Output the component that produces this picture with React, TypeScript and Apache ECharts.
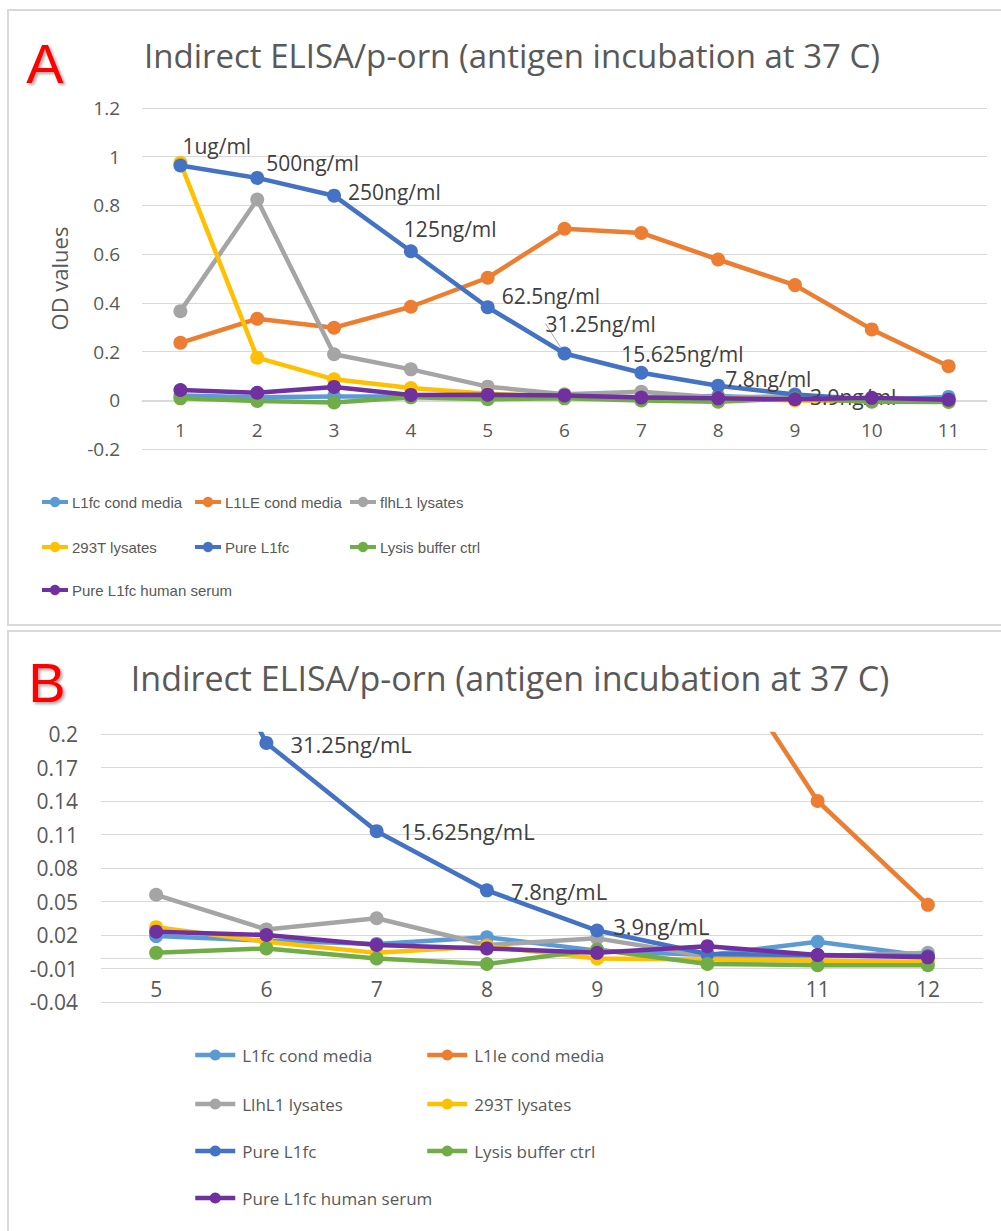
import React, { useEffect, useRef } from 'react';
import * as echarts from 'echarts';

const TITLE = 'Indirect ELISA/p-orn (antigen incubation at 37 C)';

const categoriesA = ['1', '2', '3', '4', '5', '6', '7', '8', '9', '10', '11'];
const categoriesB = ['5', '6', '7', '8', '9', '10', '11', '12'];

const namesA = ['L1fc cond media', 'L1LE cond media', 'flhL1 lysates', '293T lysates', 'Pure L1fc', 'Lysis buffer ctrl', 'Pure L1fc human serum'];
const namesB = ['L1fc cond media', 'L1le cond media', 'LlhL1 lysates', '293T lysates', 'Pure L1fc', 'Lysis buffer ctrl', 'Pure L1fc human serum'];

// OD values for dilution steps 1..12
const l1fcCondMedia = [0.02, 0.012, 0.016, 0.016, 0.019, 0.015, 0.012, 0.018, 0.006, 0.002, 0.014, 0.001];
const l1leCondMedia = [0.236, 0.335, 0.298, 0.384, 0.503, 0.704, 0.687, 0.578, 0.473, 0.291, 0.14, 0.047];
const flhL1Lysates = [0.366, 0.824, 0.189, 0.127, 0.056, 0.025, 0.035, 0.011, 0.017, 0.001, 0.001, 0.004];
const t293Lysates = [0.975, 0.175, 0.086, 0.05, 0.027, 0.014, 0.004, 0.01, -0.001, -0.002, -0.003, -0.004];
const pureL1fc = [0.964, 0.913, 0.84, 0.612, 0.382, 0.192, 0.113, 0.06, 0.024, 0.003, 0.002, 0.001];
const lysisBufferCtrl = [0.008, -0.003, -0.009, 0.012, 0.004, 0.008, -0.001, -0.006, 0.007, -0.006, -0.007, -0.007];
const pureL1fcHumanSerum = [0.042, 0.031, 0.055, 0.022, 0.023, 0.02, 0.011, 0.008, 0.004, 0.01, 0.002, 0.0];

const concLabelsA = ['1ug/ml', '500ng/ml', '250ng/ml', '125ng/ml', '62.5ng/ml', '31.25ng/ml', '15.625ng/ml', '7.8ng/ml', '3.9ng/ml'];
const concLabelsB = ['', '31.25ng/mL', '15.625ng/mL', '7.8ng/mL', '3.9ng/mL'];

const yAxisA = { min: -0.2, max: 1.2, interval: 0.2 };
const yAxisB = { min: -0.04, max: 0.2, interval: 0.03 };

// styling (kept apart from data)
const COLORS = ['#5B9BD5', '#ED7D31', '#A5A5A5', '#FFC000', '#4472C4', '#70AD47', '#7030A0'];
const labelOffsetsA: [number, number][] = [[-5, -19], [2, -15], [7, -4], [-14, -22], [7, -11], [-26, -30], [-27, -19], [0, -7], [8, 3]];
const labelOffsetsB: [number, number][] = [[0, 0], [17, 1], [17, 0], [17, 1], [9, -5]];
const legendPosA: [number, number][] = [[40, 502], [193, 502], [348, 502], [40, 547], [193, 547], [348, 547], [40, 590]];
const legendPosB: [number, number][] = [[193, 1055], [425, 1055], [193, 1104], [425, 1104], [193, 1151], [425, 1151], [193, 1198]];

const FONT = '"Open Sans", "Noto Sans", sans-serif';
const GRAY_TEXT = '#595959';
const GRID_COLOR = '#D9D9D9';

export default function App() {
  const ref = useRef<HTMLDivElement>(null);
  useEffect(() => {
    if (!ref.current) return;
    const chart = echarts.init(ref.current, null, { renderer: 'svg' });
    const allData = [l1fcCondMedia, l1leCondMedia, flhL1Lysates, t293Lysates, pureL1fc, lysisBufferCtrl, pureL1fcHumanSerum];

    const seriesA = allData.map((d, i) => {
      const vals = d.slice(0, categoriesA.length);
      const data = i === 4
        ? vals.map((v, j) => (j < concLabelsA.length ? {
          value: v,
          label: { show: true, formatter: concLabelsA[j], position: 'right', distance: 0 },
          labelLine: { show: j === 5, lineStyle: { color: '#A6A6A6', width: 1 } },
        } : v))
        : vals;
      return {
        type: 'line', name: namesA[i], xAxisIndex: 0, yAxisIndex: 0, data,
        symbol: 'circle', symbolSize: 14, showSymbol: true,
        lineStyle: { width: 4.5, color: COLORS[i] }, itemStyle: { color: COLORS[i] },
        label: { fontSize: 21, color: '#404040', fontFamily: FONT },
        labelLine: { show: false },
        labelLayout: i === 4 ? (p: any) => {
          const o = labelOffsetsA[p.dataIndex];
          return o ? { dx: o[0], dy: o[1] } : {};
        } : undefined,
        z: 2 + i,
      };
    });

    const seriesB = allData.map((d, i) => {
      const vals = d.slice(4, 4 + categoriesB.length);
      const data = i === 4
        ? vals.map((v, j) => (j >= 1 && j < concLabelsB.length ? {
          value: v,
          label: { show: true, formatter: concLabelsB[j], position: 'right', distance: 0, offset: labelOffsetsB[j] },
        } : v))
        : vals;
      return {
        type: 'line', name: namesB[i], xAxisIndex: 1, yAxisIndex: 1, data,
        symbol: 'circle', symbolSize: 14, showSymbol: true,
        lineStyle: { width: 4.5, color: COLORS[i] }, itemStyle: { color: COLORS[i] },
        label: { fontSize: 22, color: '#404040', fontFamily: FONT },
        z: 2 + i,
      };
    });

    const legends: any[] = [];
    namesA.forEach((n, i) => legends.push({
      data: [n], left: legendPosA[i][0], top: legendPosA[i][1] - 9, padding: 0,
      itemWidth: 26, itemHeight: 13, itemGap: 0, selectedMode: false,
      lineStyle: { width: 4 },
      textStyle: { fontSize: 15, lineHeight: 18, color: GRAY_TEXT, fontFamily: '"Liberation Sans Narrow", "Liberation Sans", Arial, sans-serif', padding: [0, 0, 0, -1] },
    }));
    namesB.forEach((n, i) => legends.push({
      data: [n], left: legendPosB[i][0], top: legendPosB[i][1] - 11, padding: 0,
      itemWidth: 40, itemHeight: 14, itemGap: 0, selectedMode: false,
      lineStyle: { width: 4.5 },
      textStyle: { fontSize: 17, lineHeight: 22, color: GRAY_TEXT, fontFamily: FONT, padding: [0, 0, 0, 2] },
    }));

    const bShift = -yAxisB.min;
    chart.setOption({
      animation: false,
      backgroundColor: '#FFFFFF',
      grid: [
        { left: 142, top: 108, width: 845, height: 341 },
        { left: 101, top: 734, width: 882, height: 268 },
      ],
      xAxis: [
        {
          type: 'category', gridIndex: 0, data: categoriesA, boundaryGap: true,
          position: 'bottom', offset: -48,
          axisLine: { onZero: false, lineStyle: { color: GRID_COLOR, width: 1 } },
          axisTick: { show: false },
          axisLabel: { fontSize: 19, color: GRAY_TEXT, fontFamily: FONT, margin: 19 },
          splitLine: { show: false },
        },
        {
          type: 'category', gridIndex: 1, data: categoriesB, boundaryGap: true,
          position: 'bottom', offset: -44,
          axisLine: { onZero: false, lineStyle: { color: GRID_COLOR, width: 1 } },
          axisTick: { show: false },
          axisLabel: { fontSize: 21, color: GRAY_TEXT, fontFamily: FONT, margin: 20 },
          splitLine: { show: false },
        },
      ],
      yAxis: [
        {
          type: 'value', gridIndex: 0, position: 'left', min: yAxisA.min, max: yAxisA.max, interval: yAxisA.interval,
          name: 'OD values', nameLocation: 'middle', nameGap: 72,
          nameTextStyle: { fontSize: 22, color: GRAY_TEXT, fontFamily: FONT },
          axisLine: { show: false }, axisTick: { show: false },
          axisLabel: { fontSize: 19, color: GRAY_TEXT, fontFamily: FONT, margin: 22 },
          splitLine: { lineStyle: { color: GRID_COLOR, width: 1 } },
        },
        {
          type: 'value', gridIndex: 1, position: 'left', min: yAxisB.min, max: yAxisB.max, show: false,
          splitLine: { show: false },
        },
        {
          type: 'value', gridIndex: 1, position: 'left', min: 0, max: yAxisB.max + bShift, interval: yAxisB.interval,
          axisLine: { show: false }, axisTick: { show: false },
          axisLabel: {
            fontSize: 21, color: GRAY_TEXT, fontFamily: FONT, margin: 23,
            formatter: (v: number) => String(+(v - bShift).toFixed(2)),
          },
          splitLine: { lineStyle: { color: GRID_COLOR, width: 1 } },
        },
      ],
      legend: legends,
      series: [...seriesA, ...seriesB],
      graphic: [
        { type: 'rect', shape: { x: 8, y: 10, width: 1010, height: 615 }, style: { fill: 'none', stroke: GRID_COLOR, lineWidth: 2 }, silent: true },
        { type: 'rect', shape: { x: 8, y: 631, width: 1010, height: 620 }, style: { fill: 'none', stroke: GRID_COLOR, lineWidth: 2 }, silent: true },
        { type: 'text', x: 512, y: 55, style: { text: TITLE, fontSize: 33, fontFamily: FONT, fill: GRAY_TEXT, align: 'center', verticalAlign: 'middle' } },
        { type: 'text', x: 510, y: 678, style: { text: TITLE, fontSize: 34, fontFamily: FONT, fill: GRAY_TEXT, align: 'center', verticalAlign: 'middle' } },
        { type: 'text', x: 45, y: 63, style: { text: 'A', fontSize: 56, fontFamily: '"Liberation Sans", Arial, sans-serif', fill: '#FF0000', align: 'center', verticalAlign: 'middle', textShadowColor: 'rgba(0,0,0,0.35)', textShadowBlur: 3, textShadowOffsetX: 2, textShadowOffsetY: 2 } },
        { type: 'text', x: 47, y: 682, style: { text: 'B', fontSize: 56, fontFamily: '"Liberation Sans", Arial, sans-serif', fill: '#FF0000', align: 'center', verticalAlign: 'middle', textShadowColor: 'rgba(0,0,0,0.35)', textShadowBlur: 3, textShadowOffsetX: 2, textShadowOffsetY: 2 } },
      ],
    });
    return () => chart.dispose();
  }, []);
  return <div ref={ref} style={{ position: 'absolute', left: 0, top: 0, width: 1001, height: 1231, background: '#fff' }} />;
}
